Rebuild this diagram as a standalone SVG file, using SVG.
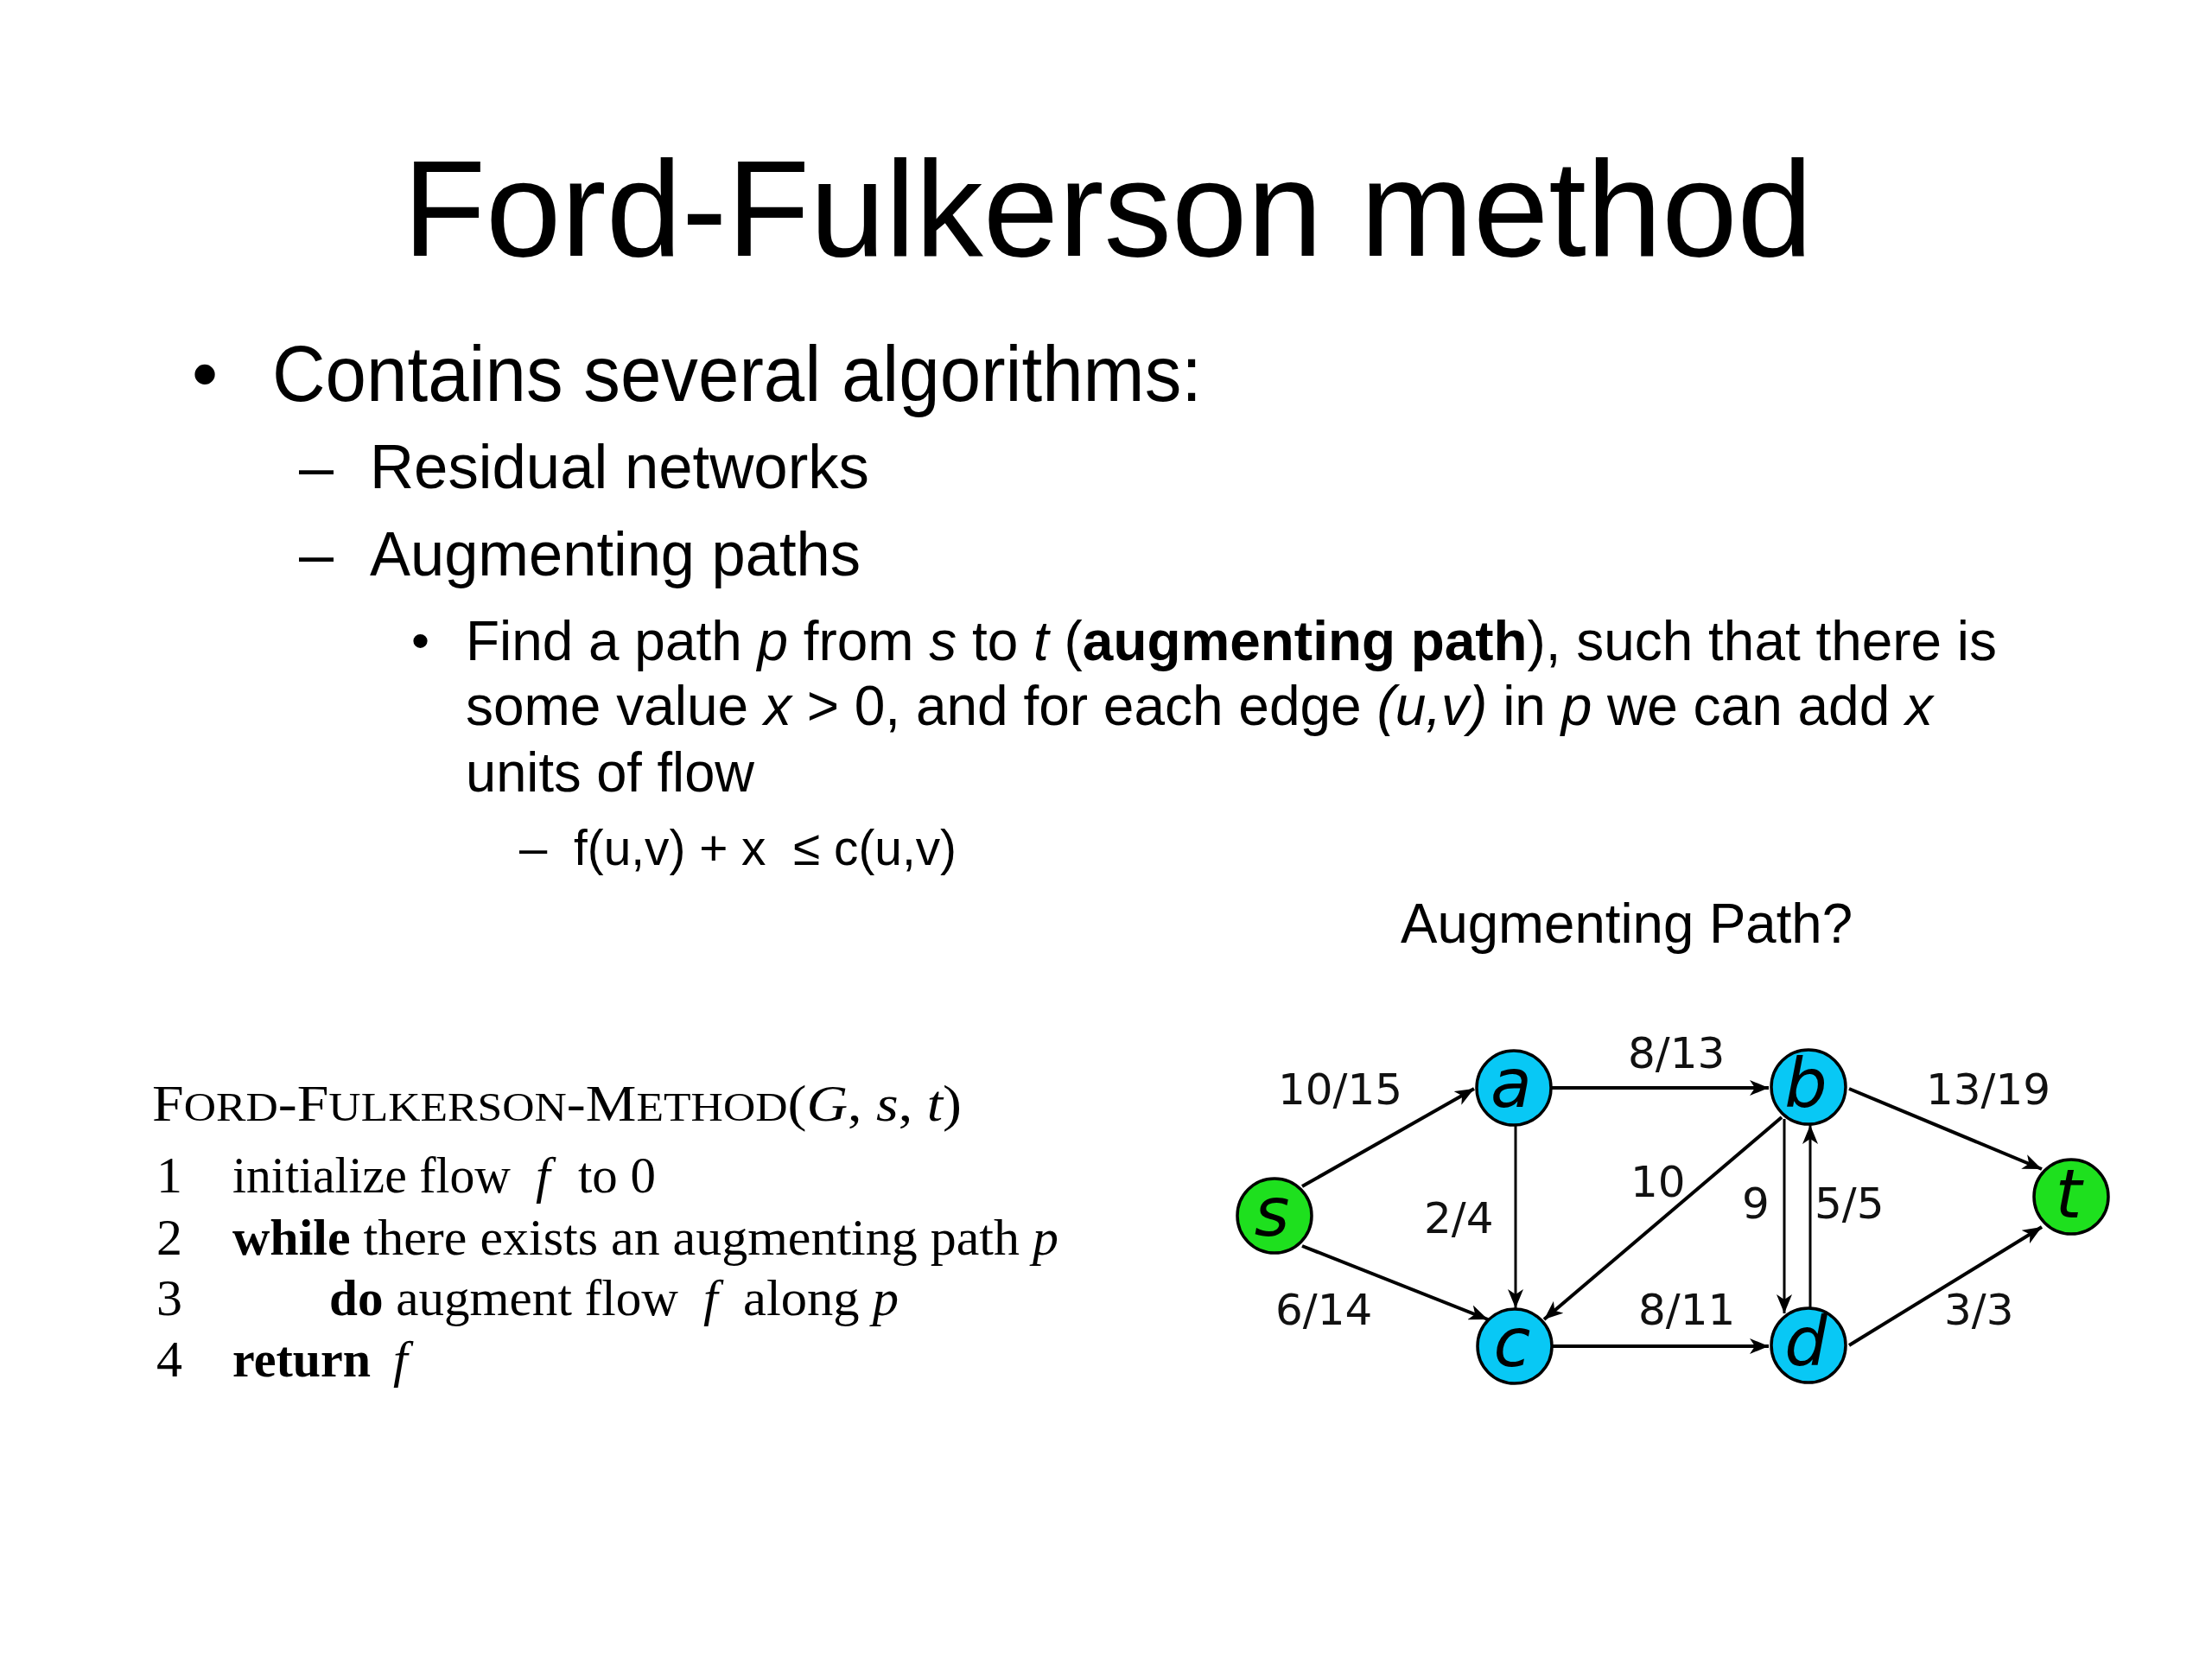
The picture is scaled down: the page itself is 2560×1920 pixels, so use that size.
<svg xmlns="http://www.w3.org/2000/svg" width="2560" height="1920" viewBox="0 0 2560 1920">
<style>
.sans{font-family:"Liberation Sans",Arial,Helvetica,sans-serif;fill:#000}
.serif{font-family:"Liberation Serif","Times New Roman",serif;fill:#000;font-size:60px}
.lbl{font-family:"DejaVu Sans",Verdana,sans-serif;font-size:50px;fill:#111}
.nl{font-family:"DejaVu Sans",Verdana,sans-serif;font-style:italic;font-size:78px;fill:#000;text-anchor:middle}
.src{fill:#1ee01e;stroke:#000;stroke-width:3.5}
.mid{fill:#08c8f5;stroke:#000;stroke-width:3.5}
.e{stroke:#000;stroke-width:4;fill:none;marker-end:url(#ah)}
.t{stroke:#000;stroke-width:3;fill:none;marker-end:url(#ah)}
.i{font-style:italic}
.b{font-weight:bold}
</style>
<defs>
<marker id="ah" markerUnits="userSpaceOnUse" markerWidth="24" markerHeight="18" refX="22" refY="9" orient="auto">
<path d="M0,0 L22,9 L0,18 L6,9 z" fill="#000"/>
</marker>
</defs>
<rect width="2560" height="1920" fill="#fff"/>

<g id="title">
<text class="sans" x="1282" y="296" font-size="157" text-anchor="middle">Ford-Fulkerson method</text>
</g>

<g id="bullets">
<text class="sans" x="222" y="462" font-size="86">•</text>
<text class="sans" x="315" y="464" font-size="90" textLength="1076" lengthAdjust="spacingAndGlyphs">Contains several algorithms:</text>
<text class="sans" x="346" y="565" font-size="72">–</text>
<text class="sans" x="428" y="565" font-size="72" textLength="578" lengthAdjust="spacingAndGlyphs">Residual networks</text>
<text class="sans" x="346" y="666" font-size="72">–</text>
<text class="sans" x="428" y="666" font-size="72" textLength="568" lengthAdjust="spacingAndGlyphs">Augmenting paths</text>
<text class="sans" x="476" y="762" font-size="60">•</text>
<text class="sans" x="539" y="764" font-size="64" textLength="1772" lengthAdjust="spacingAndGlyphs">Find a path <tspan class="i">p</tspan> from <tspan class="i">s</tspan> to <tspan class="i">t</tspan> (<tspan class="b">augmenting path</tspan>), such that there is</text>
<text class="sans" x="539" y="839" font-size="64" textLength="1698" lengthAdjust="spacingAndGlyphs">some value <tspan class="i">x</tspan> &gt; 0, and for each edge <tspan class="i">(u,v)</tspan> in <tspan class="i">p</tspan> we can add <tspan class="i">x</tspan></text>
<text class="sans" x="539" y="916" font-size="64" textLength="334" lengthAdjust="spacingAndGlyphs">units of flow</text>
<text class="sans" x="601" y="1001" font-size="58">–</text>
<text class="sans" x="664" y="1001" font-size="58" textLength="443" lengthAdjust="spacingAndGlyphs">f(u,v) + x&#160; ≤ c(u,v)</text>
<text class="sans" x="1621" y="1091" font-size="64" textLength="523" lengthAdjust="spacingAndGlyphs">Augmenting Path?</text>
</g>

<g id="pseudocode">
<text class="serif" x="176" y="1297" textLength="937" lengthAdjust="spacingAndGlyphs">F<tspan font-size="47">ORD</tspan>-F<tspan font-size="47">ULKERSON</tspan>-M<tspan font-size="47">ETHOD</tspan>(<tspan class="i">G</tspan>, <tspan class="i">s</tspan>, <tspan class="i">t</tspan>)</text>
<text class="serif" x="181" y="1380">1</text>
<text class="serif" x="269" y="1380" textLength="322" lengthAdjust="spacingAndGlyphs">initialize flow</text>
<text class="serif i" x="620" y="1380">f</text>
<text class="serif" x="669" y="1380" textLength="90" lengthAdjust="spacingAndGlyphs">to 0</text>
<text class="serif" x="181" y="1452">2</text>
<text class="serif" x="269" y="1452" textLength="956" lengthAdjust="spacingAndGlyphs"><tspan class="b">while</tspan> there exists an augmenting path <tspan class="i">p</tspan></text>
<text class="serif" x="181" y="1522">3</text>
<text class="serif" x="381" y="1522" textLength="404" lengthAdjust="spacingAndGlyphs"><tspan class="b">do</tspan> augment flow</text>
<text class="serif i" x="814" y="1522">f</text>
<text class="serif" x="860" y="1522" textLength="180" lengthAdjust="spacingAndGlyphs">along <tspan class="i">p</tspan></text>
<text class="serif" x="181" y="1593">4</text>
<text class="serif b" x="269" y="1593" textLength="160" lengthAdjust="spacingAndGlyphs">return</text>
<text class="serif i" x="455" y="1593">f</text>
</g>

<g id="connectors">
<line class="e" x1="1507" y1="1373" x2="1706" y2="1260"/>
<line class="e" x1="1507" y1="1442" x2="1722" y2="1527"/>
<line class="t" x1="1754" y1="1302" x2="1754" y2="1514"/>
<line class="e" x1="1796" y1="1259" x2="2047" y2="1259"/>
<line class="e" x1="2062" y1="1293" x2="1787" y2="1527"/>
<line class="t" x1="2065" y1="1295" x2="2065" y2="1520"/>
<line class="t" x1="2095" y1="1513" x2="2095" y2="1302"/>
<line class="e" x1="2140" y1="1260" x2="2363" y2="1353"/>
<line class="e" x1="1796" y1="1558" x2="2047" y2="1558"/>
<line class="e" x1="2140" y1="1557" x2="2363" y2="1420"/>
<text class="lbl" x="1479" y="1278">10/15</text>
<text class="lbl" x="1884" y="1236">8/13</text>
<text class="lbl" x="2229" y="1278">13/19</text>
<text class="lbl" x="1648" y="1427">2/4</text>
<text class="lbl" x="1887" y="1385">10</text>
<text class="lbl" x="2016" y="1410">9</text>
<text class="lbl" x="2100" y="1410">5/5</text>
<text class="lbl" x="1476" y="1533">6/14</text>
<text class="lbl" x="1896" y="1533">8/11</text>
<text class="lbl" x="2250" y="1533">3/3</text>
</g>

<g id="node-s"><circle class="src" cx="1475" cy="1407" r="43"/><text class="nl" x="1472" y="1430">s</text></g>
<g id="node-a"><circle class="mid" cx="1752" cy="1259" r="43"/><text class="nl" x="1749" y="1281">a</text></g>
<g id="node-b"><circle class="mid" cx="2093" cy="1258" r="43"/><text class="nl" x="2090" y="1281">b</text></g>
<g id="node-c"><circle class="mid" cx="1753" cy="1558" r="43"/><text class="nl" x="1750" y="1581">c</text></g>
<g id="node-d"><circle class="mid" cx="2093" cy="1557" r="43"/><text class="nl" x="2090" y="1580">d</text></g>
<g id="node-t"><circle class="src" cx="2397" cy="1385" r="43"/><text class="nl" x="2394" y="1409">t</text></g>
</svg>
